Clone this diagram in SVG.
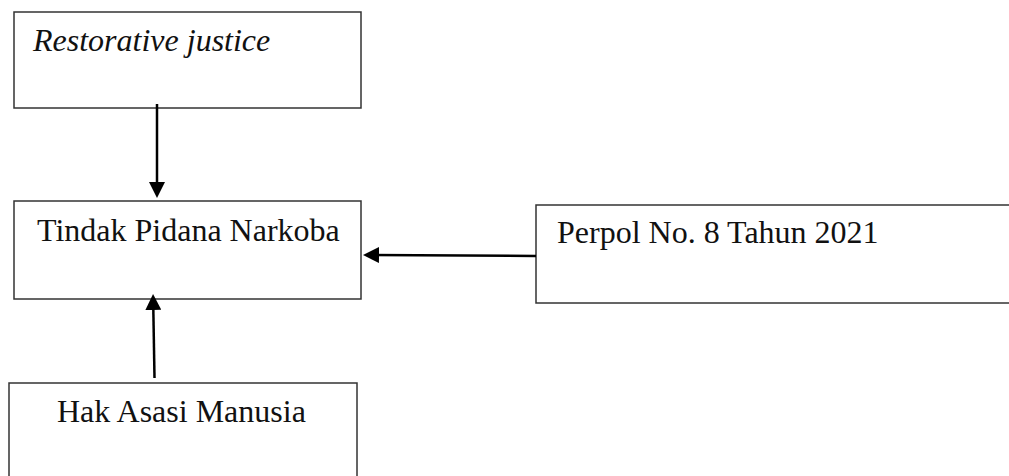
<svg xmlns="http://www.w3.org/2000/svg" width="1009" height="476" viewBox="0 0 1009 476">
<style>
.box{fill:#fff;stroke:#333;stroke-width:1.5}
.lbl{font-family:"Liberation Serif","Times New Roman",serif;font-size:32px;fill:#111}
.conn{stroke:#000;stroke-width:2.5;fill:none}
</style>
<defs>
<marker id="ah" markerUnits="userSpaceOnUse" markerWidth="16" markerHeight="16" refX="8" refY="8" orient="auto">
<path d="M0,0 L16,8 L0,16 z" fill="#000"/>
</marker>
</defs>
<rect width="1009" height="476" fill="#fff"/>
<g id="node-restorative">
<rect class="box" x="14" y="12" width="347" height="96"/>
<text class="lbl" x="33" y="51" font-style="italic">Restorative justice</text>
</g>
<g id="node-tindak">
<rect class="box" x="14" y="201" width="347" height="98"/>
<text class="lbl" x="37" y="241">Tindak Pidana Narkoba</text>
</g>
<g id="node-perpol">
<rect class="box" x="536" y="205" width="480" height="98"/>
<text class="lbl" x="557" y="243">Perpol No. 8 Tahun 2021</text>
</g>
<g id="node-ham">
<rect class="box" x="9" y="383" width="348" height="100"/>
<text class="lbl" x="57" y="422">Hak Asasi Manusia</text>
</g>
<g id="connectors">
<line class="conn" x1="157" y1="104" x2="157" y2="190" marker-end="url(#ah)"/>
<line class="conn" x1="536" y1="256" x2="371" y2="255" marker-end="url(#ah)"/>
<line class="conn" x1="154.5" y1="378" x2="153.2" y2="302" marker-end="url(#ah)"/>
</g>
</svg>
